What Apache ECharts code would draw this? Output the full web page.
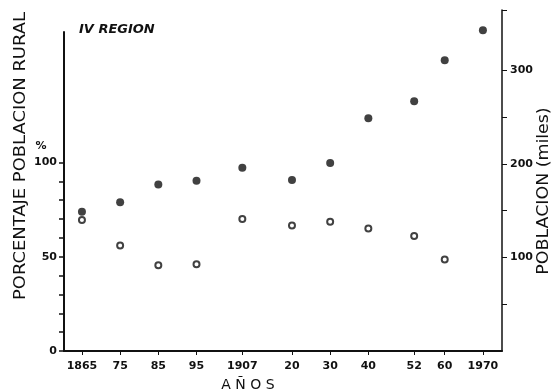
<!DOCTYPE html>
<html>
<head>
<meta charset="utf-8">
<script src="https://cdn.jsdelivr.net/npm/echarts@6/dist/echarts.min.js"></script>
<style>
  html, body { margin: 0; padding: 0; background: #fff; }
  #chart { width: 552px; height: 391px; }
</style>
</head>
<body>
<div id="chart"></div>
<script>
// years on the x axis and how they are printed
const years = [1865, 1875, 1885, 1895, 1907, 1920, 1930, 1940, 1952, 1960, 1970];
const tickLabels = ['1865', '75', '85', '95', '1907', '20', '30', '40', '52', '60', '1970'];

// filled dots: poblacion total (miles), right axis
const poblacion = [149, 159, 178, 182, 196, 183, 201, 249, 267, 311, 343];

// open dots: porcentaje poblacion rural, left axis
const ruralYears = [1865, 1875, 1885, 1895, 1907, 1920, 1930, 1940, 1952, 1960];
const porcentajeRural = [69.5, 56, 45.5, 46, 70, 66.5, 68.5, 65, 61, 48.5];

// axis ticks
const pctTicks = [0, 10, 20, 30, 40, 50, 60, 70, 80, 90, 100];
const pctLabels = [0, 50, 100];
const pobTicks = [50, 100, 150, 200, 250, 300, 364];
const pobLabels = [100, 200, 300];

const ink = '#111';
const font = 'DejaVu Sans';
const numStyle = { fontFamily: font, fontWeight: 'bold', fontSize: 11, color: ink };

const chart = echarts.init(document.getElementById('chart'));

chart.setOption({
  animation: false,
  backgroundColor: '#fff',
  title: {
    text: 'IV REGION',
    left: 74,
    top: 18,
    textStyle: { fontFamily: font, fontStyle: 'italic', fontWeight: 'bold', fontSize: 13, color: ink }
  },
  grid: [
    { left: 64, right: 50, top: 32, bottom: 40 },
    { left: 64, right: 50, top: 10, bottom: 40 }
  ],
  xAxis: [
    {
      type: 'value',
      gridIndex: 0,
      min: 1860.3,
      max: 1975,
      axisLine: { lineStyle: { color: ink, width: 2 } },
      axisTick: { show: true, customValues: years, length: 4, lineStyle: { color: ink, width: 1 } },
      axisLabel: {
        customValues: years,
        margin: 10,
        formatter: v => tickLabels[years.indexOf(v)],
        ...numStyle
      },
      splitLine: { show: false }
    },
    { type: 'value', gridIndex: 1, min: 1860.3, max: 1975, show: false }
  ],
  yAxis: [
    {
      type: 'value',
      gridIndex: 0,
      position: 'left',
      min: 0,
      max: 169.2,
      axisLine: { show: true, lineStyle: { color: ink, width: 2 } },
      axisTick: { show: true, customValues: pctTicks, length: 5, lineStyle: { color: ink, width: 1.5 } },
      axisLabel: { customValues: pctLabels, margin: 7, ...numStyle },
      splitLine: { show: false }
    },
    {
      type: 'value',
      gridIndex: 1,
      position: 'right',
      min: 0,
      max: 364.7,
      axisLine: { show: true, lineStyle: { color: ink, width: 1.5 } },
      axisTick: { show: true, customValues: pobTicks, length: 5, lineStyle: { color: ink, width: 1 } },
      axisLabel: { customValues: pobLabels, margin: 8, ...numStyle },
      splitLine: { show: false }
    }
  ],
  series: [
    {
      name: 'Poblacion',
      type: 'scatter',
      xAxisIndex: 1,
      yAxisIndex: 1,
      symbol: 'circle',
      symbolSize: 8,
      itemStyle: { color: ink },
      data: years.map((y, i) => [y, poblacion[i]])
    },
    {
      name: 'Porcentaje rural',
      type: 'scatter',
      xAxisIndex: 0,
      yAxisIndex: 0,
      symbol: 'circle',
      symbolSize: 6,
      itemStyle: { color: '#fff', borderColor: ink, borderWidth: 2 },
      data: ruralYears.map((y, i) => [y, porcentajeRural[i]])
    }
  ],
  graphic: [
    {
      type: 'text', x: 21, y: 156, rotation: Math.PI / 2, scaleX: 1.12,
      style: { text: 'PORCENTAJE POBLACION RURAL', fontFamily: font, fontSize: 16, fill: ink, align: 'center', verticalAlign: 'middle' }
    },
    {
      type: 'text', x: 544, y: 191, rotation: Math.PI / 2, scaleX: 1.16,
      style: { text: 'POBLACION (miles)', fontFamily: font, fontSize: 15, fill: ink, align: 'center', verticalAlign: 'middle' }
    },
    {
      type: 'text', x: 41, y: 146,
      style: { text: '%', fontFamily: font, fontWeight: 'bold', fontSize: 11, fill: ink, align: 'center', verticalAlign: 'middle' }
    },
    {
      type: 'text', x: 248, y: 385,
      style: { text: 'A Ñ O S', fontFamily: font, fontSize: 14, fill: ink, align: 'center', verticalAlign: 'middle' }
    }
  ]
});

window.addEventListener('resize', () => chart.resize());
</script>
</body>
</html>
